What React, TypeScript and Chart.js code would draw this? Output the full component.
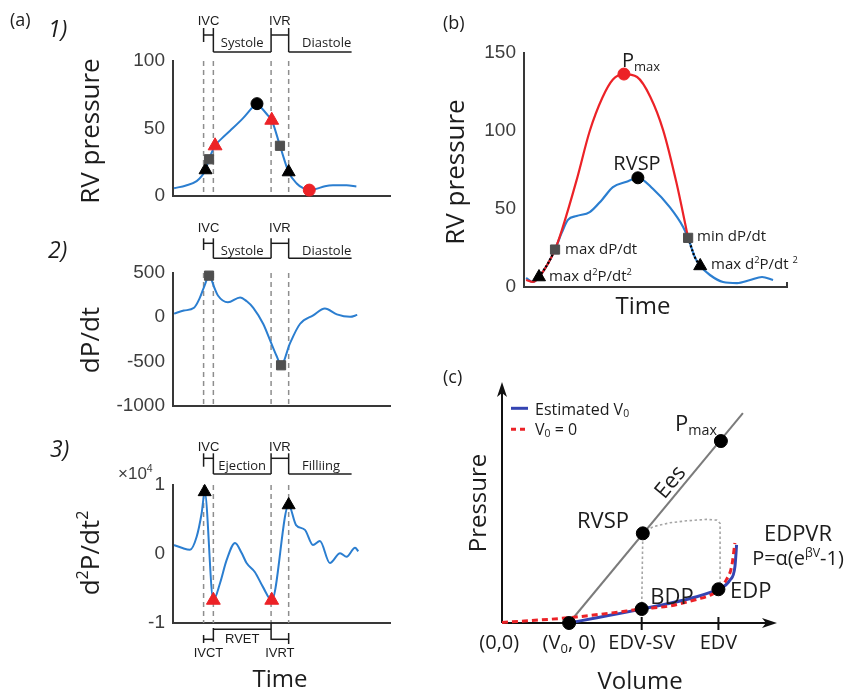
import React, { useEffect, useRef } from 'react';
import { Chart, registerables } from 'chart.js';

Chart.register(...registerables);

const SANS = '"Open Sans", "Liberation Sans", Arial, sans-serif';
const NUM = '"Liberation Sans", Arial, sans-serif';
const BLUE = '#2b7ed0';
const RED = '#ec2227';
const INDIGO = '#3444b2';
const SQUARE = '#4f4f4f';
const AXIS = '#383838';
const INK = '#1c1c1c';

type Pt = [number, number];

// ---------------- (a) shared cardiac phase timing ----------------
const phaseTimes = [14.1, 18.6, 45.2, 53.3];
const phaseEndTime = 82.3;
const phaseLabelsA = ['IVC', 'Systole', 'IVR', 'Diastole'];
const phaseLabelsB = ['IVC', 'Ejection', 'IVR', 'Filliing'];
const intervalLabels = ['IVCT', 'RVET', 'IVRT'];

// ---------------- (a)1 RV pressure ----------------
const pressureTicks = [0, 50, 100];
const pressureTime = [0.5, 6, 10.9, 13.2, 15, 16.6, 19.4, 22.5, 26.3, 32.3, 36.9, 38.7, 41, 43.5, 45.5, 49.3, 53.3, 57, 60, 62.8, 66, 70, 73.7, 80, 84.5];
const pressureValues = [5.5, 7.5, 10.8, 14.4, 19, 27, 37, 42.5, 48.2, 57.6, 66, 68.3, 64.7, 60, 56, 37, 17.5, 9, 5.5, 4.1, 5, 7, 7.7, 7.7, 6.7];
const pressureBlackTriangles: Pt[] = [[15, 19], [53.3, 17.5]];
const pressureSquares: Pt[] = [[16.6, 27], [49.3, 37]];
const pressureRedTriangles: Pt[] = [[19.4, 37], [45.5, 56]];
const pressurePeak: Pt[] = [[38.7, 68.3]];
const pressureMinimum: Pt[] = [[62.8, 4.1]];

// ---------------- (a)2 dP/dt ----------------
const dpdtTicks = [-1000, -500, 0, 500];
const dpdtTime = [0.5, 5, 9.7, 12.3, 14.6, 16.6, 19.2, 20.7, 25.3, 30.9, 34, 37, 41.6, 44.7, 47.8, 49.8, 53.9, 58.5, 64.6, 70, 75.5, 81.6, 84.9];
const dpdtValues = [40, 75, 106, 215, 361, 470, 325, 245, 168, 223, 180, 106, -77, -259, -442, -544, -296, -77, 21, 98, 32, 4, 26];
const dpdtSquares: Pt[] = [[16.6, 470], [49.8, -544]];

// ---------------- (a)3 d2P/dt2 (x10^4) ----------------
const d2Ticks = [-1, 0, 1];
const d2Time = [0.5, 4, 7.8, 10.9, 13.2, 14.6, 18.6, 21.7, 24.7, 28.6, 31.7, 33.9, 37.7, 41.5, 45.5, 53.3, 56.7, 60.8, 64.5, 67.7, 72.3, 77, 80, 83.9, 85.4];
const d2Values = [0.13, 0.09, 0.06, 0.25, 0.59, 0.9, -0.67, -0.42, -0.09, 0.16, 0.01, -0.13, -0.26, -0.48, -0.67, 0.71, 0.42, 0.35, 0.13, 0.19, -0.13, 0.01, -0.04, 0.09, 0.04];
const d2BlackTriangles: Pt[] = [[14.6, 0.9], [53.3, 0.71]];
const d2RedTriangles: Pt[] = [[18.6, -0.67], [45.5, -0.67]];

// ---------------- (b) RV pressure with sine fit ----------------
const rvTicks = [0, 50, 100, 150];
const rvTime = [0.8, 3.4, 5.7, 9.1, 11.8, 14.4, 16.7, 20, 25, 29.7, 33.8, 39, 43.3, 49, 55.5, 60.5, 62.4, 65, 67, 70.7, 75.7, 81, 86, 90.5, 94.7];
const rvPressure = [5.8, 3.2, 6.4, 15, 24, 35, 43, 45.5, 48, 56, 64, 67.5, 70, 63, 51, 38.5, 31.5, 19, 13.5, 7.7, 3.2, 2.5, 4.5, 6.4, 4.5];
const fitTime = [0.8, 3.4, 5.7, 9.1, 11.8, 14.4, 20, 25, 29.7, 33.8, 38, 43, 48, 52.9, 58, 62.4];
const fitPressure = [4.5, 3.2, 6.4, 15, 24, 36.5, 68.5, 100, 121, 133, 136.5, 134.6, 122, 100.6, 66.6, 31.5];
const upstrokeTime = [5.7, 9.1, 11.8];
const upstrokePressure = [6.4, 15, 24];
const downstrokeTime = [62.4, 65, 67];
const downstrokePressure = [31.5, 19, 13.5];
const rvTriangles: Pt[] = [[5.7, 6.4], [67, 13.5]];
const rvSquares: Pt[] = [[11.8, 24], [62.4, 31.5]];
const rvsp: Pt[] = [[43.3, 70]];
const pmax: Pt[] = [[38, 136.5]];

// ---------------- (c) pressure-volume ----------------
const eesVolume = [24.4, 87.6];
const eesPressure = [0, 87.1];
const estV0Volume = [24.4, 35, 43, 50.8, 61.1, 70.8, 76, 78.7, 82.9, 84.7, 85.3];
const estV0Pressure = [0, 2.3, 4, 5.8, 8.2, 10.9, 12.8, 14, 17.8, 23.4, 32.4];
const zeroV0Volume = [0, 24.4, 40, 50.8, 61.1, 70.8, 76.5, 78.7, 81.5, 83.5, 84.7];
const zeroV0Pressure = [0.2, 2.2, 4.2, 5.8, 7.1, 9.8, 12, 14, 17.8, 23.4, 33.2];
const loopVolume = [50.8, 51.2, 55, 61.1, 67.2, 74.4, 78.1, 79.3, 79.3, 78.7];
const loopPressure = [5.8, 37.2, 40, 41.6, 42.4, 43, 42.7, 41.4, 15.1, 14];
const pvPoints: Pt[] = [[24.4, 0], [79.6, 75.5], [51.2, 37.2], [50.8, 5.8], [78.7, 14]];
const volumeTickValues = [-1, 24.4, 50.8, 78.7];
const volumeTickLabels = ['(0,0)', '(V_{0}, 0)', 'EDV-SV', 'EDV'];

// ---------------- helpers ----------------
const xy = (xs: number[], ys: number[]) => xs.map((x, i) => ({ x, y: ys[i] }));
const pts = (list: Pt[]) => list.map(([x, y]) => ({ x, y }));

function lineSet(data: any[], color: string, width: number, order: number, extra: any = {}) {
  return {
    data, borderColor: color, backgroundColor: color, borderWidth: width, pointRadius: 0, fill: false,
    cubicInterpolationMode: 'monotone', clip: false, order, ...extra,
  };
}
function markerSet(data: any[], style: string, radius: number, color: string, order = 0) {
  return {
    data, showLine: false, pointStyle: style, pointRadius: radius, pointBackgroundColor: color,
    pointBorderColor: color, pointBorderWidth: 1, clip: false, order,
  };
}

function options(xRange: [number, number], yRange: [number, number], yTicks: number[] | null, padding: any) {
  const showAxes = yTicks !== null;
  return {
    responsive: false,
    animation: false,
    events: [],
    layout: { padding },
    plugins: { legend: { display: false }, tooltip: { enabled: false } },
    scales: {
      x: {
        type: 'linear', min: xRange[0], max: xRange[1], display: showAxes,
        grid: { display: false, drawTicks: false },
        border: { display: true, color: AXIS, width: 2 },
        ticks: { display: false },
        afterFit: (s: any) => { s.height = 0; },
      },
      y: {
        type: 'linear', min: yRange[0], max: yRange[1], display: showAxes,
        grid: { display: false, drawTicks: false },
        border: { display: true, color: AXIS, width: 2 },
        ticks: { font: { family: NUM, size: 19 }, color: '#3d3d3d', padding: 8, callback: (v: any) => String(v) },
        afterBuildTicks: (s: any) => { if (yTicks) s.ticks = yTicks.map((v) => ({ value: v })); },
        afterFit: (s: any) => { s.width = showAxes ? 60 : 0; },
      },
    },
  };
}

function decor(before: ((c: any) => void) | null, after: ((c: any) => void) | null) {
  return {
    id: 'decor',
    beforeDatasetsDraw: (c: any) => { if (before) { c.ctx.save(); before(c); c.ctx.restore(); } },
    afterDraw: (c: any) => { if (after) { c.ctx.save(); after(c); c.ctx.restore(); } },
  };
}

type Run = { t: string; size: number; dy: number };
function parseRich(str: string, size: number): Run[] {
  const runs: Run[] = [];
  const re = /([_^])\{([^}]*)\}/g;
  let last = 0;
  let m: RegExpExecArray | null;
  while ((m = re.exec(str)) !== null) {
    if (m.index > last) runs.push({ t: str.slice(last, m.index), size, dy: 0 });
    if (m[1] === '_') runs.push({ t: m[2], size: size * 0.65, dy: size * 0.18 });
    else runs.push({ t: m[2], size: size * 0.62, dy: -size * 0.42 });
    last = re.lastIndex;
  }
  if (last < str.length) runs.push({ t: str.slice(last), size, dy: 0 });
  return runs;
}

function text(ctx: CanvasRenderingContext2D, str: string, x: number, y: number, size: number,
  align: 'left' | 'center' | 'right' = 'left', family = SANS, color = INK, style = '') {
  const runs = parseRich(str, size);
  ctx.save();
  ctx.fillStyle = color;
  ctx.textBaseline = 'alphabetic';
  ctx.textAlign = 'left';
  const fontOf = (r: Run) => `${style ? style + ' ' : ''}${r.size}px ${family}`;
  const widths = runs.map((r) => { ctx.font = fontOf(r); return ctx.measureText(r.t).width; });
  const total = widths.reduce((a, b) => a + b, 0);
  let cx = align === 'left' ? x : align === 'center' ? x - total / 2 : x - total;
  runs.forEach((r, i) => { ctx.font = fontOf(r); ctx.fillText(r.t, cx, y + r.dy); cx += widths[i]; });
  ctx.restore();
}

function textRotated(ctx: CanvasRenderingContext2D, str: string, cx: number, cy: number, size: number, angle: number) {
  ctx.save();
  ctx.translate(cx, cy);
  ctx.rotate(angle);
  text(ctx, str, 0, size * 0.36, size, 'center');
  ctx.restore();
}

function seg(ctx: CanvasRenderingContext2D, x1: number, y1: number, x2: number, y2: number) {
  ctx.beginPath();
  ctx.moveTo(x1, y1);
  ctx.lineTo(x2, y2);
  ctx.stroke();
}

type PhaseGeom = { label: number; top: number; mid: number; hBot: number; line: number; text: number };
function phaseBar(c: any, g: PhaseGeom, labels: string[], lastLabelT: number) {
  const ctx = c.ctx as CanvasRenderingContext2D;
  const sx = (v: number) => c.scales.x.getPixelForValue(v);
  const X = phaseTimes.map(sx);
  const XE = sx(phaseEndTime);
  ctx.strokeStyle = INK;
  ctx.lineWidth = 1.5;
  ctx.setLineDash([]);
  seg(ctx, X[0], g.top, X[0], g.hBot);
  seg(ctx, X[0], g.mid, X[1], g.mid);
  seg(ctx, X[1], g.top, X[1], g.line);
  seg(ctx, X[1], g.line, X[2], g.line);
  seg(ctx, X[2], g.top, X[2], g.line);
  seg(ctx, X[2], g.mid, X[3], g.mid);
  seg(ctx, X[3], g.top, X[3], g.line);
  seg(ctx, X[3], g.line, XE, g.line);
  text(ctx, labels[0], (X[0] + X[1]) / 2, g.label, 13, 'center', NUM);
  text(ctx, labels[1], (X[1] + X[2]) / 2, g.text, 13, 'center');
  text(ctx, labels[2], (X[2] + X[3]) / 2, g.label, 13, 'center', NUM);
  text(ctx, labels[3], sx(lastLabelT), g.text, 13, 'center');
}

function eventLines(c: any) {
  const ctx = c.ctx as CanvasRenderingContext2D;
  const a = c.chartArea;
  ctx.strokeStyle = '#8e8e8e';
  ctx.lineWidth = 1.5;
  ctx.setLineDash([5, 4]);
  phaseTimes.forEach((t) => {
    const px = c.scales.x.getPixelForValue(t);
    seg(ctx, px, a.top, px, a.bottom);
  });
}

// ---------------- chart builders ----------------
function buildA1() {
  return {
    type: 'line',
    data: {
      datasets: [
        markerSet(pts(pressureRedTriangles), 'triangle', 8, RED, 0),
        markerSet(pts(pressureSquares), 'rect', 6.5, SQUARE, 1),
        markerSet(pts(pressureBlackTriangles), 'triangle', 7.5, '#000', 2),
        markerSet(pts(pressurePeak), 'circle', 6, '#000', 0),
        markerSet(pts(pressureMinimum), 'circle', 6, RED, 0),
        lineSet(xy(pressureTime, pressureValues), BLUE, 2, 5),
      ],
    },
    options: options([0, 100], [0, 100], pressureTicks, { left: 113, right: 30, top: 61, bottom: 15 }),
    plugins: [decor(eventLines, (c: any) => {
      const ctx = c.ctx;
      text(ctx, '(a)', 10, 26, 18);
      text(ctx, '1)', 48, 37, 23, 'left', SANS, INK, 'italic');
      textRotated(ctx, 'RV pressure', 90, 131, 26, -Math.PI / 2);
      phaseBar(c, { label: 25, top: 28, mid: 35, hBot: 42, line: 52, text: 47 }, phaseLabelsA, 70.8);
    })],
  };
}

function buildA2() {
  return {
    type: 'line',
    data: {
      datasets: [
        markerSet(pts(dpdtSquares), 'rect', 6.5, SQUARE, 0),
        lineSet(xy(dpdtTime, dpdtValues), BLUE, 2, 5),
      ],
    },
    options: options([0, 100], [-1000, 500], dpdtTicks, { left: 113, right: 30, top: 58, bottom: 13 }),
    plugins: [decor(eventLines, (c: any) => {
      const ctx = c.ctx;
      text(ctx, '2)', 48, 43, 23, 'left', SANS, INK, 'italic');
      textRotated(ctx, 'dP/dt', 90, 125, 26, -Math.PI / 2);
      phaseBar(c, { label: 16.7, top: 23.3, mid: 28.3, hBot: 35, line: 43.3, text: 39.5 }, phaseLabelsA, 70.8);
    })],
  };
}

function buildA3() {
  return {
    type: 'line',
    data: {
      datasets: [
        markerSet(pts(d2BlackTriangles), 'triangle', 7.5, '#000', 0),
        markerSet(pts(d2RedTriangles), 'triangle', 8, RED, 0),
        lineSet(xy(d2Time, d2Values), BLUE, 2, 5),
      ],
    },
    options: options([0, 100], [-1, 1], d2Ticks, { left: 113, right: 30, top: 60, bottom: 70 }),
    plugins: [decor(eventLines, (c: any) => {
      const ctx = c.ctx as CanvasRenderingContext2D;
      const sx = (v: number) => c.scales.x.getPixelForValue(v);
      const X = phaseTimes.map(sx);
      text(ctx, '3)', 50, 32, 23, 'left', SANS, INK, 'italic');
      textRotated(ctx, 'd^{2}P/dt^{2}', 90, 128, 26, -Math.PI / 2);
      text(ctx, '×10^{4}', 118, 54, 17, 'left', NUM, '#3d3d3d');
      phaseBar(c, { label: 25.5, top: 28.3, mid: 33.3, hBot: 41.7, line: 49, text: 45 }, phaseLabelsB, 68.2);
      // interval brackets below the axis
      ctx.strokeStyle = INK;
      ctx.lineWidth = 1.5;
      ctx.setLineDash([]);
      seg(ctx, X[1], 204.3, X[2], 204.3);
      seg(ctx, X[1], 203, X[1], 216.7);
      seg(ctx, X[2], 197, X[2], 215);
      seg(ctx, X[0], 214.3, X[1], 214.3);
      seg(ctx, X[0], 210, X[0], 218);
      seg(ctx, X[2], 214.3, X[3], 214.3);
      seg(ctx, X[3], 208, X[3], 219);
      text(ctx, intervalLabels[0], (X[0] + X[1]) / 2, 231.7, 13, 'center', NUM);
      text(ctx, intervalLabels[1], (X[1] + X[2]) / 2, 217.7, 13, 'center', NUM);
      text(ctx, intervalLabels[2], (X[2] + X[3]) / 2, 231.7, 13, 'center', NUM);
      text(ctx, 'Time', 280, 261.5, 24, 'center');
    })],
  };
}

function buildB() {
  return {
    type: 'line',
    data: {
      datasets: [
        markerSet(pts(pmax), 'circle', 6, RED, 0),
        markerSet(pts(rvsp), 'circle', 6, '#000', 0),
        markerSet(pts(rvSquares), 'rect', 6.5, SQUARE, 0),
        markerSet(pts(rvTriangles), 'triangle', 7.5, '#000', 0),
        lineSet(xy(upstrokeTime, upstrokePressure), '#000', 2.2, 1, { borderDash: [2, 2] }),
        lineSet(xy(downstrokeTime, downstrokePressure), '#000', 2.2, 1, { borderDash: [2, 2] }),
        lineSet(xy(fitTime, fitPressure), RED, 2.2, 2),
        lineSet(xy(rvTime, rvPressure), BLUE, 2.2, 3),
      ],
    },
    options: options([0, 100], [0, 150], rvTicks, { left: 44, right: 59, top: 53, bottom: 33 }),
    plugins: [decor(null, (c: any) => {
      const ctx = c.ctx as CanvasRenderingContext2D;
      const a = c.chartArea;
      ctx.strokeStyle = AXIS;
      ctx.lineWidth = 2;
      seg(ctx, a.right, a.bottom, a.right, a.bottom - 5);
      text(ctx, '(b)', 23, 29, 18);
      textRotated(ctx, 'RV pressure', 35, 172, 26, -Math.PI / 2);
      text(ctx, 'Time', 223, 313.5, 24, 'center');
      text(ctx, 'P_{max}', 202, 67, 20);
      text(ctx, 'RVSP', 217, 170, 20, 'center');
      text(ctx, 'max dP/dt', 145, 254, 15);
      text(ctx, 'max d^{2}P/dt^{2}', 129, 281, 15);
      text(ctx, 'min dP/dt', 277, 241, 15);
      text(ctx, 'max d^{2}P/dt ^{2}', 291, 269, 15);
    })],
  };
}

function arrowHead(ctx: CanvasRenderingContext2D, x: number, y: number, dir: 'up' | 'right') {
  ctx.beginPath();
  if (dir === 'up') {
    ctx.moveTo(x, y);
    ctx.lineTo(x + 5, y + 15);
    ctx.lineTo(x, y + 11);
    ctx.lineTo(x - 5, y + 15);
  } else {
    ctx.moveTo(x, y);
    ctx.lineTo(x - 15, y + 5);
    ctx.lineTo(x - 11, y);
    ctx.lineTo(x - 15, y - 5);
  }
  ctx.closePath();
  ctx.fill();
}

function buildC() {
  return {
    type: 'line',
    data: {
      datasets: [
        markerSet(pts(pvPoints), 'circle', 6.5, '#000', 0),
        lineSet(xy(zeroV0Volume, zeroV0Pressure), RED, 3, 1, { borderDash: [6, 4] }),
        lineSet(xy(estV0Volume, estV0Pressure), INDIGO, 3, 2),
        lineSet(xy(eesVolume, eesPressure), '#7b7b7b', 2, 3, { cubicInterpolationMode: 'default', tension: 0 }),
        lineSet(xy(loopVolume, loopPressure), '#a5a5a5', 1.6, 4, { cubicInterpolationMode: 'default', tension: 0, borderDash: [2.5, 2.5] }),
      ],
    },
    options: options([0, 100], [0, 100], null, { left: 82, right: 69, top: 42, bottom: 70 }),
    plugins: [decor((c: any) => {
      const ctx = c.ctx as CanvasRenderingContext2D;
      const a = c.chartArea;
      const sx = (v: number) => c.scales.x.getPixelForValue(v);
      ctx.strokeStyle = '#111';
      ctx.fillStyle = '#111';
      ctx.lineWidth = 2;
      seg(ctx, a.left, a.bottom, a.left, a.top + 10);
      seg(ctx, a.left, a.bottom, a.right - 10, a.bottom);
      arrowHead(ctx, a.left, a.top, 'up');
      arrowHead(ctx, a.right, a.bottom, 'right');
      [volumeTickValues[2], volumeTickValues[3]].forEach((v) => seg(ctx, sx(v), a.bottom - 6, sx(v), a.bottom + 7));
    }, (c: any) => {
      const ctx = c.ctx as CanvasRenderingContext2D;
      const sx = (v: number) => c.scales.x.getPixelForValue(v);
      const sy = (v: number) => c.scales.y.getPixelForValue(v);
      text(ctx, '(c)', 23, 43, 18);
      textRotated(ctx, 'Pressure', 57, 163, 24, -Math.PI / 2);
      text(ctx, 'Volume', 220, 348.5, 24, 'center');
      volumeTickValues.forEach((v, i) => text(ctx, volumeTickLabels[i], sx(v), 309, 20, 'center'));
      // legend
      ctx.lineWidth = 3;
      ctx.strokeStyle = INDIGO;
      ctx.setLineDash([]);
      seg(ctx, 91, 68.3, 108, 68.3);
      ctx.strokeStyle = RED;
      ctx.setLineDash([5, 4]);
      seg(ctx, 91, 89.3, 109, 89.3);
      ctx.setLineDash([]);
      text(ctx, 'Estimated V_{0}', 115, 74.5, 16);
      text(ctx, 'V_{0} = 0', 115, 94.5, 16);
      // annotations
      text(ctx, 'P_{max}', 255, 91, 22);
      const x0 = sx(eesVolume[0]); const y0 = sy(eesPressure[0]);
      const x1 = sx(eesVolume[1]); const y1 = sy(eesPressure[1]);
      const ang = Math.atan2(y1 - y0, x1 - x0);
      ctx.save();
      ctx.translate(x0 + (x1 - x0) * 0.635, y0 + (y1 - y0) * 0.635);
      ctx.rotate(ang);
      text(ctx, 'Ees', 0, -5, 22, 'center');
      ctx.restore();
      text(ctx, 'RVSP', 183, 188, 22, 'center');
      text(ctx, 'EDPVR', 378, 201, 22, 'center');
      text(ctx, 'P=α(e^{βV}-1)', 378, 225, 20, 'center');
      text(ctx, 'BDP', 252, 264, 22, 'center');
      text(ctx, 'EDP', 310, 258, 22);
    })],
  };
}

function Panel({ left, top, width, height, make }: { left: number; top: number; width: number; height: number; make: () => any }) {
  const ref = useRef<HTMLCanvasElement>(null);
  useEffect(() => {
    if (!ref.current) return;
    const chart = new Chart(ref.current, make());
    return () => chart.destroy();
  }, []);
  return (
    <canvas
      ref={ref}
      width={width}
      height={height}
      style={{ position: 'absolute', left, top, width, height }}
    />
  );
}

export default function App() {
  Chart.defaults.font.family = SANS;
  return (
    <div style={{ position: 'absolute', left: 0, top: 0, width: 846, height: 693, background: '#fff', overflow: 'hidden' }}>
      <Panel left={0} top={0} width={420} height={215} make={buildA1} />
      <Panel left={0} top={215} width={420} height={210} make={buildA2} />
      <Panel left={0} top={425} width={420} height={268} make={buildA3} />
      <Panel left={420} top={0} width={426} height={320} make={buildB} />
      <Panel left={420} top={340} width={426} height={353} make={buildC} />
    </div>
  );
}
